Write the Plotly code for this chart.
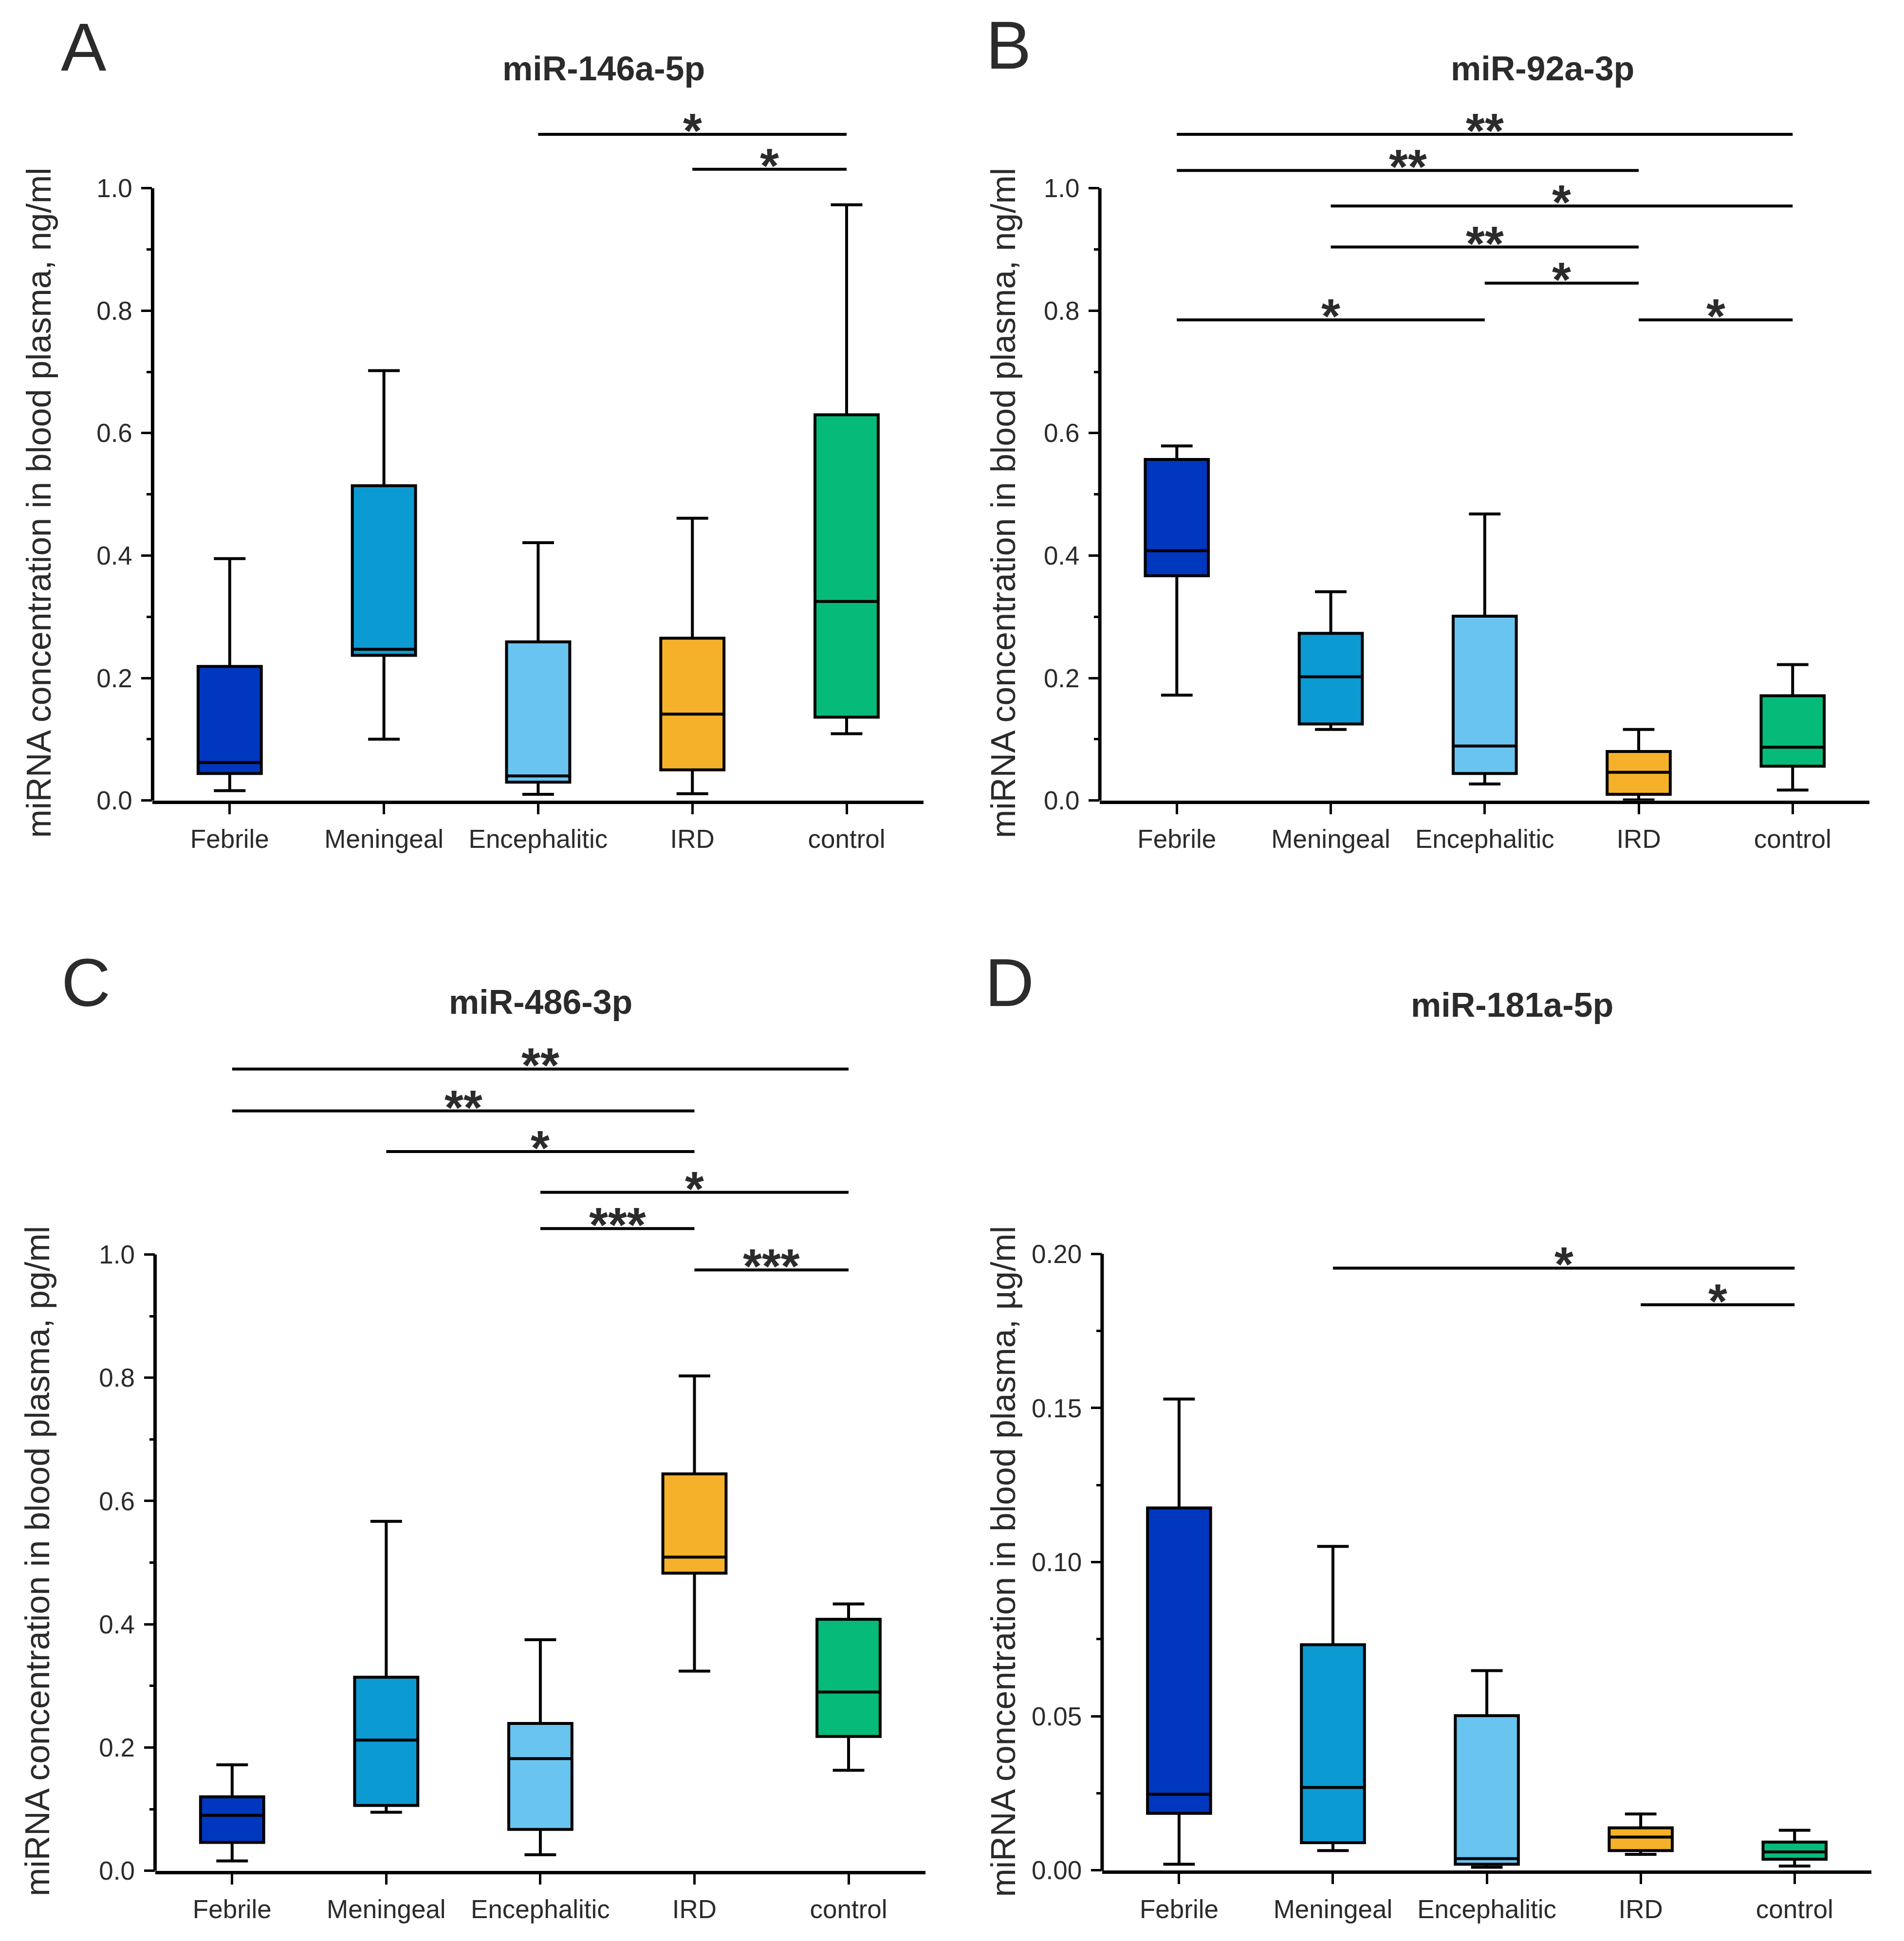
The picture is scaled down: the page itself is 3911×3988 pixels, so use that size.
import plotly.graph_objects as go

categories = ["Febrile", "Meningeal", "Encephalitic", "IRD", "control"]
colors = ["#0037BF", "#0C9AD3", "#69C4F0", "#F5B12A", "#06BB79"]

# Panel A: miR-146a-5p (ng/ml)
a_low = [0.016, 0.100, 0.010, 0.011, 0.109]
a_q1 = [0.044, 0.237, 0.030, 0.050, 0.136]
a_med = [0.062, 0.247, 0.040, 0.141, 0.325]
a_q3 = [0.219, 0.514, 0.259, 0.265, 0.630]
a_high = [0.395, 0.702, 0.421, 0.461, 0.973]
a_sig = [(2, 4, 1.088, "*"), (3, 4, 1.031, "*")]

# Panel B: miR-92a-3p (ng/ml)
b_low = [0.172, 0.116, 0.027, 0.001, 0.017]
b_q1 = [0.367, 0.125, 0.044, 0.010, 0.056]
b_med = [0.408, 0.202, 0.089, 0.046, 0.087]
b_q3 = [0.557, 0.273, 0.301, 0.080, 0.171]
b_high = [0.579, 0.341, 0.468, 0.116, 0.222]
b_sig = [(0, 4, 1.088, "**"), (0, 3, 1.029, "**"), (1, 4, 0.971, "*"),
         (1, 3, 0.904, "**"), (2, 3, 0.845, "*"), (0, 2, 0.785, "*"),
         (3, 4, 0.785, "*")]

# Panel C: miR-486-3p (pg/ml)
c_low = [0.016, 0.095, 0.026, 0.324, 0.163]
c_q1 = [0.046, 0.106, 0.067, 0.483, 0.218]
c_med = [0.090, 0.212, 0.182, 0.509, 0.290]
c_q3 = [0.120, 0.314, 0.239, 0.644, 0.408]
c_high = [0.172, 0.567, 0.375, 0.803, 0.433]
c_sig = [(0, 4, 1.301, "**"), (0, 3, 1.233, "**"), (1, 3, 1.167, "*"),
         (2, 4, 1.101, "*"), (2, 3, 1.042, "***"), (3, 4, 0.975, "***")]

# Panel D: miR-181a-5p (ug/ml)
d_low = [0.0020, 0.0064, 0.0010, 0.0052, 0.0014]
d_q1 = [0.0185, 0.0090, 0.0020, 0.0064, 0.0036]
d_med = [0.0247, 0.0269, 0.0038, 0.0108, 0.0060]
d_q3 = [0.1176, 0.0732, 0.0502, 0.0138, 0.0092]
d_high = [0.1529, 0.1051, 0.0648, 0.0183, 0.0130]
d_sig = [(1, 4, 0.1954, "*"), (3, 4, 0.1835, "*")]

ticks_1 = [0.0, 0.2, 0.4, 0.6, 0.8, 1.0]
ticklabels_1 = ["0.0", "0.2", "0.4", "0.6", "0.8", "1.0"]
minor_1 = [0.1, 0.3, 0.5, 0.7, 0.9]
ticks_d = [0.0, 0.05, 0.10, 0.15, 0.20]
ticklabels_d = ["0.00", "0.05", "0.10", "0.15", "0.20"]
minor_d = [0.025, 0.075, 0.125, 0.175]

titles = ["miR-146a-5p", "miR-92a-3p", "miR-486-3p", "miR-181a-5p"]
letters = ["A", "B", "C", "D"]
ylabels = ["miRNA concentration in blood plasma, ng/ml",
           "miRNA concentration in blood plasma, ng/ml",
           "miRNA concentration in blood plasma, pg/ml",
           "miRNA concentration in blood plasma, µg/ml"]

FONT = "Liberation Sans, Arial, Helvetica, sans-serif"
TXT = "#2b2b2b"

panels = [
    dict(low=a_low, q1=a_q1, med=a_med, q3=a_q3, high=a_high, sig=a_sig,
         ticks=ticks_1, labels=ticklabels_1, minor=minor_1, axtop=1.0, ymax=1.2,
         xdom=(0.0781, 0.4831), y0=0.5865, y1=0.9043,
         title=(0.315, 0.9665), letter=(0.042, 0.9777), ylab=(0.0185, 0.741)),
    dict(low=b_low, q1=b_q1, med=b_med, q3=b_q3, high=b_high, sig=b_sig,
         ticks=ticks_1, labels=ticklabels_1, minor=minor_1, axtop=1.0, ymax=1.2,
         xdom=(0.5756, 0.9799), y0=0.5865, y1=0.9043,
         title=(0.808, 0.9665), letter=(0.5277, 0.9786), ylab=(0.5249, 0.741)),
    dict(low=c_low, q1=c_q1, med=c_med, q3=c_q3, high=c_high, sig=c_sig,
         ticks=ticks_1, labels=ticklabels_1, minor=minor_1, axtop=1.0, ymax=1.4,
         xdom=(0.0794, 0.4841), y0=0.0309, y1=0.3508,
         title=(0.282, 0.4818), letter=(0.043, 0.492), ylab=(0.0175, 0.1916)),
    dict(low=d_low, q1=d_q1, med=d_med, q3=d_q3, high=d_high, sig=d_sig,
         ticks=ticks_d, labels=ticklabels_d, minor=minor_d, axtop=0.20, ymax=0.24,
         xdom=(0.5768, 0.9809), y0=0.0311, y1=0.3511,
         title=(0.792, 0.4802), letter=(0.528, 0.492), ylab=(0.5249, 0.1916)),
]

fig = go.Figure()
shapes = []
annotations = []

for i, p in enumerate(panels):
    n = i + 1
    xa = "x" if n == 1 else f"x{n}"
    ya = "y" if n == 1 else f"y{n}"
    for k, cat in enumerate(categories):
        fig.add_trace(go.Box(
            x=[cat], q1=[p["q1"][k]], median=[p["med"][k]], q3=[p["q3"][k]],
            lowerfence=[p["low"][k]], upperfence=[p["high"][k]],
            fillcolor=colors[k], line=dict(color="black", width=6),
            width=0.41, whiskerwidth=0.5, boxpoints=False,
            showlegend=False, hoverinfo="skip", xaxis=xa, yaxis=ya))
    dom_top = p["y0"] + (p["y1"] - p["y0"]) * p["ymax"] / p["axtop"]
    xkey = "xaxis" if n == 1 else f"xaxis{n}"
    ykey = "yaxis" if n == 1 else f"yaxis{n}"
    fig.update_layout(**{
        xkey: dict(domain=list(p["xdom"]), anchor=ya, type="category",
                   categoryorder="array", categoryarray=categories,
                   range=[-0.5, 4.5], showline=True, linewidth=7, linecolor="black",
                   ticks="outside", ticklen=21, tickwidth=5, tickcolor="black",
                   tickfont=dict(family=FONT, size=53, color=TXT),
                   ticklabelstandoff=6, showgrid=False, zeroline=False,
                   fixedrange=True),
        ykey: dict(domain=[p["y0"], dom_top], anchor=xa, range=[0, p["ymax"]],
                   showline=False, tickmode="array", tickvals=p["ticks"],
                   ticktext=p["labels"], ticks="outside", ticklen=22, tickwidth=5,
                   tickcolor="black", tickfont=dict(family=FONT, size=53, color=TXT),
                   ticklabelstandoff=8,
                   minor=dict(tickmode="array", tickvals=p["minor"], ticks="outside",
                              ticklen=11, tickwidth=4.5, tickcolor="black"),
                   showgrid=False, zeroline=False, fixedrange=True),
    })
    # y axis line only up to the last tick
    shapes.append(dict(type="line", xref=f"{xa} domain", yref=ya, x0=0, x1=0,
                       y0=0, y1=p["axtop"], line=dict(color="black", width=7)))
    # significance bars
    for (c0, c1, yv, lab) in p["sig"]:
        shapes.append(dict(type="line", xref=xa, yref=ya, x0=c0, x1=c1, y0=yv, y1=yv,
                           line=dict(color="black", width=6)))
        annotations.append(dict(x=(c0 + c1) / 2, y=yv, xref=xa, yref=ya,
                                text=f"<b>{lab}</b>",
                                showarrow=False, yanchor="middle", yshift=8,
                                font=dict(family=FONT, size=100, color=TXT)))
    annotations.append(dict(x=p["title"][0], y=p["title"][1], xref="paper", yref="paper",
                            text=f"<b>{titles[i]}</b>", showarrow=False,
                            xanchor="center", yanchor="middle",
                            font=dict(family=FONT, size=70, color=TXT)))
    annotations.append(dict(x=p["letter"][0], y=p["letter"][1], xref="paper", yref="paper",
                            text=letters[i], showarrow=False,
                            xanchor="center", yanchor="middle",
                            font=dict(family=FONT, size=140, color=TXT)))
    annotations.append(dict(x=p["ylab"][0], y=p["ylab"][1], xref="paper", yref="paper",
                            text=ylabels[i], showarrow=False, textangle=-90,
                            xanchor="center", yanchor="middle",
                            font=dict(family=FONT, size=70, color=TXT)))

fig.update_layout(width=3911, height=3988, margin=dict(l=0, r=0, t=0, b=0),
                  paper_bgcolor="white", plot_bgcolor="white", boxmode="overlay",
                  shapes=shapes, annotations=annotations,
                  font=dict(family=FONT, color=TXT))

fig.write_html("out.html")
